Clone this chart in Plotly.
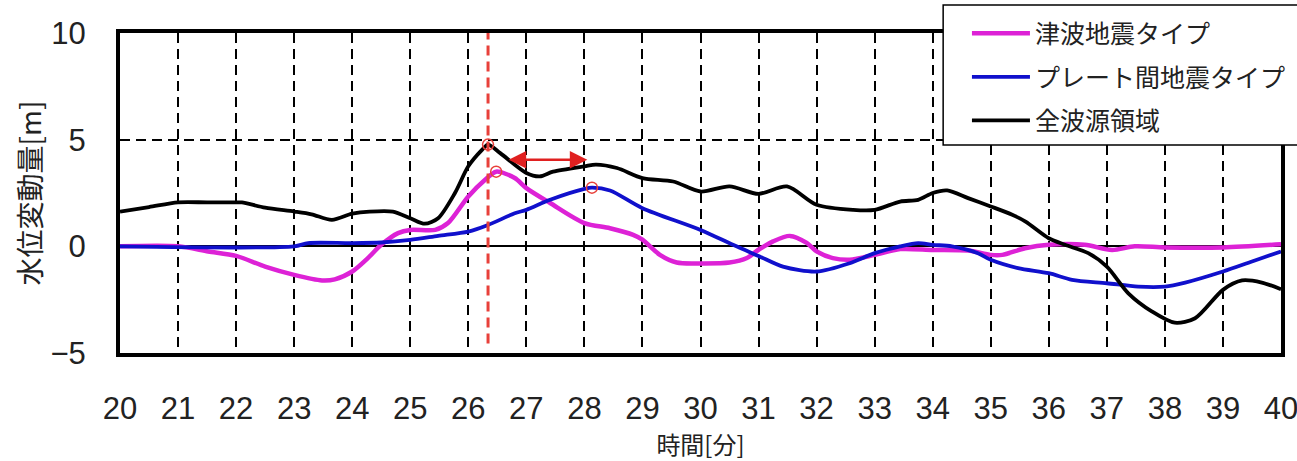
import plotly.graph_objects as go

# Time axis [min] and water-level change [m] for each source model
t_tsunami = [20, 21, 21.52, 22, 22.5, 23, 23.48, 23.7, 24, 24.27, 24.5, 24.79, 25, 25.43,
             25.65, 26, 26.29, 26.48, 26.8, 27, 27.41, 28, 28.44, 28.84, 29, 29.3, 29.59,
             30, 30.5, 30.8, 31, 31.25, 31.54, 31.83, 32, 32.28, 32.57, 33, 33.44, 34,
             34.61, 35, 35.2, 35.59, 36, 36.62, 37.09, 37.48, 38, 39, 40]
h_tsunami = [0, 0, -0.24, -0.45, -0.95, -1.34, -1.6, -1.55, -1.18, -0.55, 0.07, 0.62, 0.77,
             0.77, 1.09, 2.34, 3.12, 3.5, 3.2, 2.73, 2.03, 1.09, 0.85, 0.54, 0.31, -0.4,
             -0.76, -0.8, -0.76, -0.55, -0.16, 0.23, 0.49, 0.16, -0.24, -0.55, -0.63, -0.4,
             -0.13, -0.17, -0.2, -0.4, -0.4, -0.09, 0.07, 0.07, -0.17, 0, -0.05, -0.05, 0.1]

t_plate = [20, 23, 23.24, 24, 24.5, 25, 25.48, 26, 26.34, 26.8, 27, 27.41, 28, 28.13,
           28.44, 29, 30, 30.56, 31, 31.42, 32, 32.57, 33, 33.44, 33.75, 34, 34.33, 34.78,
           35, 35.47, 36, 36.4, 37, 37.54, 38, 38.35, 39, 39.5, 40]
h_plate = [0, 0, 0.15, 0.15, 0.18, 0.3, 0.49, 0.69, 1.0, 1.55, 1.71, 2.18, 2.69, 2.75,
           2.62, 1.79, 0.77, 0.07, -0.45, -0.95, -1.18, -0.79, -0.32, 0, 0.15, 0.07, 0,
           -0.32, -0.63, -1.02, -1.26, -1.57, -1.73, -1.89, -1.89, -1.7, -1.18, -0.71, -0.24]

t_all = [20, 20.5, 21, 21.5, 22, 22.1, 22.5, 23, 23.3, 23.65, 24, 24.3, 24.7, 25, 25.25,
         25.48, 25.77, 26, 26.24, 26.34, 26.55, 27, 27.23, 27.46, 28, 28.2, 28.56, 29,
         29.53, 30, 30.5, 31, 31.49, 32, 32.63, 33, 33.44, 33.75, 34, 34.25, 34.61, 35,
         35.37, 35.6, 36, 36.28, 36.68, 37, 37.37, 37.78, 38.17, 38.52, 39, 39.33, 39.67, 40]
h_all = [1.63, 1.84, 2.06, 2.06, 2.06, 2.06, 1.81, 1.63, 1.5, 1.24, 1.53, 1.63, 1.63, 1.32,
         1.06, 1.32, 2.5, 3.75, 4.53, 4.77, 4.37, 3.44, 3.28, 3.5, 3.75, 3.83, 3.67, 3.2,
         3.04, 2.57, 2.81, 2.46, 2.81, 1.95, 1.71, 1.71, 2.1, 2.18, 2.5, 2.62, 2.26, 1.87,
         1.48, 1.16, 0.38, 0.07, -0.32, -0.95, -2.2, -3.06, -3.58, -3.37, -2.04, -1.6,
         -1.7, -2.01]

# Peak points marked with open circles, and the arrival-time gap arrow
peak_t = [26.34, 26.48, 28.13]
peak_h = [4.77, 3.5, 2.75]
ref_time = 26.34
arrow_t = [26.67, 28.05]
arrow_h = 4.06

x_ticks = list(range(20, 41))
y_ticks = [-5, 0, 5, 10]

series = [
    ("津波地震タイプ", t_tsunami, h_tsunami, "#dd22d6", 4.5),
    ("プレート間地震タイプ", t_plate, h_plate, "#1010cc", 3.8),
    ("全波源領域", t_all, h_all, "#000000", 3.8),
]

TICK_FONT = dict(family="Liberation Sans, Arial, sans-serif", size=31, color="#222222")
JP_FONT = "Noto Sans CJK JP, sans-serif"

fig = go.Figure()
for i, (name, t, h, color, width) in enumerate(series):
    fig.add_trace(go.Scatter(
        x=t, y=h, mode="lines", name=name, legendgroup=f"g{i}",
        line=dict(color=color, width=width, shape="spline", smoothing=0.8),
    ))

fig.add_trace(go.Scatter(
    x=peak_t, y=peak_h, mode="markers", showlegend=False, hoverinfo="skip",
    marker=dict(symbol="circle-open", size=11, color="#e8403a", line=dict(width=1.5)),
))

# Legend box (covers the top-right corner of the frame)
fig.add_shape(type="rect", xref="paper", yref="paper", x0=0.709, x1=1.2, y0=0.65, y1=1.0875,
              fillcolor="white", line=dict(color="black", width=1.5), layer="above")

# Reference time line
fig.add_shape(type="line", xref="x", yref="y", x0=ref_time, x1=ref_time, y0=-4.55, y1=10,
              line=dict(color="#e8403a", width=3, dash="10px,6px"), layer="above")

# Double-headed arrow between the two peaks
fig.add_annotation(x=arrow_t[1], y=arrow_h, ax=arrow_t[0], ay=arrow_h,
                   xref="x", yref="y", axref="x", ayref="y", text="",
                   showarrow=True, arrowhead=2, startarrowhead=2, arrowside="end+start",
                   arrowsize=1.4, startarrowsize=1.4, arrowwidth=2.5, arrowcolor="#e02020")

fig.update_layout(
    width=1297, height=461,
    margin=dict(l=120, r=16, t=33, b=108, autoexpand=False),
    paper_bgcolor="white", plot_bgcolor="white",
    showlegend=True,
    legend=dict(x=0.7295, y=1.07, xanchor="left", yanchor="top",
                bgcolor="rgba(0,0,0,0)", borderwidth=0,
                font=dict(family=JP_FONT, size=25, color="#222222"),
                itemwidth=58, tracegroupgap=8),
    xaxis=dict(range=[20, 40], tickvals=x_ticks, ticktext=[str(v) for v in x_ticks],
               showgrid=True, gridcolor="black", gridwidth=1.5, griddash="10px,6px",
               showline=True, linecolor="black", linewidth=4, mirror=True,
               ticks="", tickfont=TICK_FONT, ticklabelstandoff=25,
               ticklabeloverflow="allow",
               title=dict(text="時間[分]", font=dict(family=JP_FONT, size=24, color="#222222"),
                          standoff=0),
               zeroline=False),
    yaxis=dict(range=[-5, 10], tickvals=y_ticks, ticktext=["−5", "0", "5", "10"],
               showgrid=True, gridcolor="black", gridwidth=1.5, griddash="10px,6px",
               showline=True, linecolor="black", linewidth=4, mirror=True,
               zeroline=True, zerolinecolor="black", zerolinewidth=1.5,
               ticks="", tickfont=TICK_FONT, ticklabelstandoff=24,
               title=dict(text="水位変動量[m]", font=dict(family=JP_FONT, size=28, color="#222222"),
                          standoff=2)),
)

fig.write_html("out.html")
